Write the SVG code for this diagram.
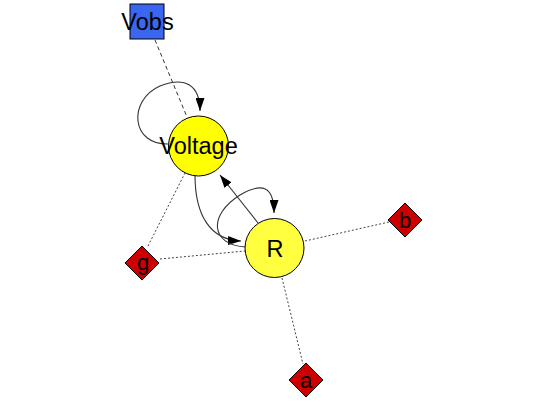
<svg xmlns="http://www.w3.org/2000/svg" width="548" height="403" viewBox="0 0 548 403">
<defs>
<marker id="arr" markerUnits="userSpaceOnUse" markerWidth="13" markerHeight="9" refX="13" refY="4.5" orient="auto">
<path d="M0,0 L13,4.5 L0,9 z" fill="#000"/>
</marker>
<style>
.t{font-family:"Liberation Sans",Arial,sans-serif;font-size:23.5px;text-anchor:middle;fill:#000}
.d{font-family:"Liberation Sans",Arial,sans-serif;font-size:22px;text-anchor:middle;fill:#000}
.dot{fill:none;stroke:#444;stroke-width:1;stroke-dasharray:2,2}
.dash{fill:none;stroke:#333;stroke-width:1;stroke-dasharray:4,3}
.cur{fill:none;stroke:#333;stroke-width:1.1}
.circ{stroke:#000;stroke-width:1}
.dia{fill:#cc0000;stroke:#000;stroke-width:1}
</style>
</defs>
<rect width="548" height="403" fill="#fff"/>
<g id="connectors">
<line class="dash" x1="155" y1="40" x2="187" y2="117"/>
<line class="dot" x1="148" y1="246" x2="185" y2="173"/>
<line class="dot" x1="160" y1="259" x2="245" y2="251"/>
<line class="dot" x1="305" y1="241" x2="389" y2="222"/>
<line class="dot" x1="282" y1="278" x2="303" y2="364"/>
<path class="cur" d="M170,144 C130,146 128,100 160,86 C185,76 200,85 200,111" marker-end="url(#arr)"/>
<path class="cur" d="M195,175 C195,215 210,240 241,241" marker-end="url(#arr)"/>
<path class="cur" d="M258,223 L220,175" marker-end="url(#arr)"/>
<path class="cur" d="M246,247 C210,245 208,215 240,195 C262,182 274,186 274,213" marker-end="url(#arr)"/>
</g>
<g id="Vobs">
<rect x="130" y="4" width="34" height="35" fill="#3a66f0" stroke="#000" stroke-width="1"/>
<text class="t" x="147.5" y="30">Vobs</text>
</g>
<g id="Voltage">
<circle class="circ" cx="198.5" cy="146" r="30" fill="#ffff00"/>
<text class="t" x="198.5" y="154">Voltage</text>
</g>
<g id="R">
<circle class="circ" cx="274.5" cy="248" r="29.5" fill="#ffff40"/>
<text class="t" x="275" y="257">R</text>
</g>
<g id="g">
<path class="dia" d="M142,246 L159,263 L142,280 L125,263 z"/>
<text class="d" x="143" y="270">g</text>
</g>
<g id="b">
<path class="dia" d="M405,203 L422,220 L405,237 L388,220 z"/>
<text class="d" x="405" y="228">b</text>
</g>
<g id="a">
<path class="dia" d="M306,363 L323,380 L306,397 L289,380 z"/>
<text class="d" x="306" y="388">a</text>
</g>
</svg>
